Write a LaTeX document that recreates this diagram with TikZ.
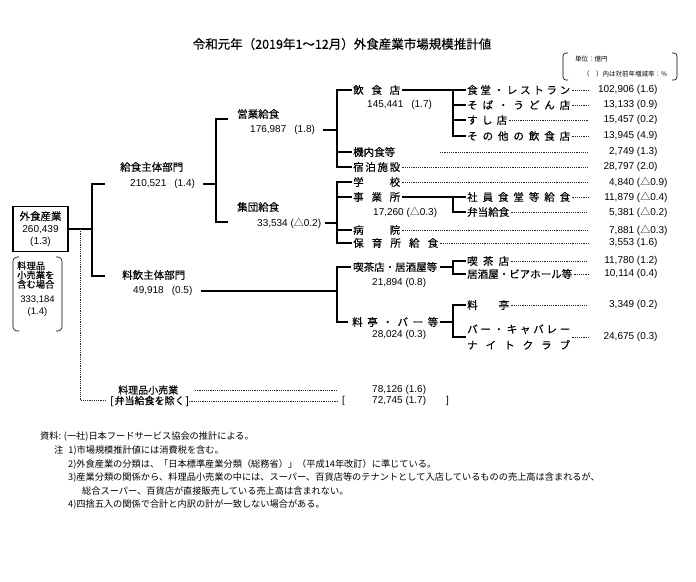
\documentclass[tikz,border=0pt]{standalone}
\usepackage{fontspec}
\setmainfont{Noto Sans CJK JP}[FakeBold=0.3]
\newfontfamily\numfont{Liberation Sans}
\newfontfamily\cjkf{Noto Sans CJK JP}
\usetikzlibrary{calc}
\makeatletter
\def\sprtxt#1{\spr@a#1\spr@end}
\def\spr@end{\spr@end}
\def\spr@a#1{#1\spr@b}
\def\spr@b#1{\ifx#1\spr@end\else\hfil#1\expandafter\spr@b\fi}
\makeatother
\newcommand{\spr}[2]{\makebox[#1][s]{\sprtxt{#2}}}
\newcommand{\tri}{{\cjkf △}}
\tikzset{
 lb/.style={font=\fontsize{10.5}{12}\selectfont, inner sep=0pt, anchor=west},
 nm/.style={font=\numfont\fontsize{10}{12}\selectfont, inner sep=0pt, anchor=west},
 val/.style={nm},
 note/.style={font=\cjkf\fontsize{9.2}{11}\selectfont, inner sep=0pt, anchor=west},
 unit/.style={font=\cjkf\fontsize{6.5}{8}\selectfont, inner sep=0pt, anchor=west},
 ln/.style={line width=1.1pt},
 ld/.style={line width=0.55pt, dash pattern=on 1.1pt off 1.1pt, black!85},
 brk/.style={line width=0.6pt, rounded corners=3pt},
}
\begin{document}
\begin{tikzpicture}[x=1pt,y=-1pt]
\fill[white] (0,0) rectangle (696,581);
\useasboundingbox (0,0) rectangle (696,581);

% title and unit
\node[font=\fontsize{12.5}{14}\selectfont, inner sep=0pt] (title) at (342,44) {令和元年（2019年1～12月）外食産業市場規模推計値};
\node[unit] (u1) at (575,59) {単位：億円};
\node[unit] (u2) at (583,74) {（　）内は対前年増減率：\%};
\draw[brk] (568,53) -- (563,53) -- (563,80) -- (568,80);
\draw[brk] (672,53) -- (677,53) -- (677,80) -- (672,80);

% root box
\node[draw, line width=1.3pt, minimum width=55pt, minimum height=45pt, inner sep=0pt, align=center, font=\fontsize{10}{12.3}\selectfont] (gai) at (40.5,229)
 {{\fontsize{10.5}{12.3}\selectfont 外食産業}\\{\numfont 260,439}\\{\numfont (1.3)}};
\draw[brk, rounded corners=4pt] (19,257) -- (13,257) -- (13,331) -- (19,331);
\draw[brk, rounded corners=4pt] (56,257) -- (62,257) -- (62,331) -- (56,331);
\node[font=\fontsize{9.3}{9.3}\selectfont, inner sep=0pt, align=left, anchor=west] (kouriT) at (17,275) {料理品\\小売業を\\含む場合};
\node[font=\numfont\fontsize{9.5}{12}\selectfont, inner sep=0pt, align=center] (kouriN) at (37.5,306) {333,184\\(1.4)};

% level 1
\node[lb] (kyu) at (120,167) {給食主体部門};
\node[nm] (kyuN) at (130,184) {210,521\hspace{8pt}(1.4)};
\node[lb] (ryo) at (122,275) {料飲主体部門};
\node[nm] (ryoN) at (133,291) {49,918\hspace{8pt}(0.5)};

% level 2
\node[lb] (eig) at (237,114) {営業給食};
\node[nm] (eigN) at (250,130) {176,987\hspace{8pt}(1.8)};
\node[lb] (shu) at (237,207) {集団給食};
\node[nm] (shuN) at (257,223) {33,534 (\tri0.2)};

% level 3
\node[lb] (ins) at (353,90) {\spr{47pt}{飲食店}};
\node[nm] (insN) at (367,105) {145,441\hspace{8pt}(1.7)};
\node[lb] (kin) at (353,152) {機内食等};
\node[lb] (shk) at (353,167) {\spr{47pt}{宿泊施設}};
\node[lb] (gak) at (353,182) {\spr{47pt}{学校}};
\node[lb] (jig) at (353,197) {\spr{47pt}{事業所}};
\node[nm] (jigN) at (373,212) {17,260 (\tri0.3)};
\node[lb] (byo) at (353,230) {\spr{47pt}{病院}};
\node[lb] (hoi) at (353,243) {\spr{85pt}{保育所給食}};
\node[lb] (kis) at (353,267) {喫茶店・居酒屋等};
\node[nm] (kisN) at (372,283) {21,894 (0.8)};
\node[lb] (ryt) at (352,322) {\spr{86pt}{料亭・バー等}};
\node[nm] (rytN) at (372,335) {28,024 (0.3)};

% level 4
\node[lb] (r1) at (467,90) {\spr{103pt}{食堂・レストラン}};
\node[lb] (r2) at (467,105) {\spr{103pt}{そば・うどん店}};
\node[lb] (r3) at (467,120) {\spr{40pt}{すし店}};
\node[lb] (r4) at (467,136) {\spr{103pt}{その他の飲食店}};
\node[lb] (r5) at (467,197) {\spr{103pt}{社員食堂等給食}};
\node[lb] (r6) at (467,212) {弁当給食};
\node[lb] (r7) at (467,261) {\spr{42pt}{喫茶店}};
\node[lb] (r8) at (467,274) {居酒屋・ビアホール等};
\node[lb] (r9) at (467,305) {\spr{42pt}{料亭}};
\node[lb, align=left, font=\fontsize{10.5}{16}\selectfont] (r10) at (467,337) {\spr{103pt}{バー・キャバレー}\\\spr{103pt}{ナイトクラブ}};

% values
\node[val] (v1) at (634,90) {\llap{102,906} (1.6)};
\node[val] (v2) at (634,105) {\llap{13,133} (0.9)};
\node[val] (v3) at (634,120) {\llap{15,457} (0.2)};
\node[val] (v4) at (634,136) {\llap{13,945} (4.9)};
\node[val] (v5) at (634,152) {\llap{2,749} (1.3)};
\node[val] (v6) at (634,167) {\llap{28,797} (2.0)};
\node[val] (v7) at (634,182) {\llap{4,840} (\tri0.9)};
\node[val] (v8) at (634,197) {\llap{11,879} (\tri0.4)};
\node[val] (v9) at (634,212) {\llap{5,381} (\tri0.2)};
\node[val] (v10) at (634,230) {\llap{7,881} (\tri0.3)};
\node[val] (v11) at (634,243) {\llap{3,553} (1.6)};
\node[val] (v12) at (634,261) {\llap{11,780} (1.2)};
\node[val] (v13) at (634,274) {\llap{10,114} (0.4)};
\node[val] (v14) at (634,305) {\llap{3,349} (0.2)};
\node[val] (v15) at (634,337) {\llap{24,675} (0.3)};

% retail
\node[lb, font=\fontsize{10}{12}\selectfont] (rk) at (118,390) {料理品小売業};
\node[lb, font=\fontsize{10}{12}\selectfont] (bk) at (110,401) {[\kern1pt 弁当給食を除く\kern1pt ]};
\node[nm] (rkV) at (372,390) {78,126 (1.6)};
\node[nm] (bkV) at (372,401) {72,745 (1.7)};
\node[nm] (bkL) at (342,401) {[};
\node[nm] (bkR) at (446,401) {]};

% coordinates
\coordinate (j0) at (92,0);
\coordinate (j1) at (216,0);
\coordinate (j2) at (337,0);
\coordinate (j4) at (453,0);
\coordinate (lx) at (588,0);
\coordinate (ls) at (440,0);
\coordinate (dj) at (80,0);
\coordinate (la) at (195,0);
\coordinate (lb2) at (187,0);
\coordinate (lz) at (337,0);
\coordinate (b1) at (105,184);
\coordinate (b2) at (105,276);
\coordinate (c1) at (228,119);
\coordinate (c2) at (228,222);
\coordinate (d1) at (351,267);
\coordinate (d2) at (348,322);
\coordinate (dend) at (105,400);

% connectors
\draw[ln] (gai.east) -- (gai.east -| j0);
\draw[ln] (b1) -- (b1 -| j0) -- (b2 -| j0) -- (b2);
\draw[ld] (gai.east -| dj) -- (dend -| dj) -- (dend);

\draw[ln] ([xshift=8pt]kyuN.east) -- (kyuN.east -| j1);
\draw[ln] (c1) -- (c1 -| j1) -- (c2 -| j1) -- (c2);
\draw[ln] ([xshift=8pt]ryoN.east) -- (ryoN.east -| j2);
\draw[ln] (d1) -- (d1 -| j2) -- (d2 -| j2) -- (d2);

\draw[ln] ([xshift=8pt]eigN.east) -- (eigN.east -| j2);
\draw[ln] ([xshift=-1pt]ins.west) -- (ins.west -| j2) -- (shk.west -| j2) -- ([xshift=-1pt]shk.west);
\draw[ln] (kin.west -| j2) -- ([xshift=-1pt]kin.west);

\draw[ln] ([xshift=4pt]shuN.east) -- (shuN.east -| j2);
\draw[ln] ([xshift=-1pt]gak.west) -- (gak.west -| j2) -- (hoi.west -| j2) -- ([xshift=-1pt]hoi.west);
\draw[ln] (jig.west -| j2) -- ([xshift=-1pt]jig.west);
\draw[ln] (byo.west -| j2) -- ([xshift=-1pt]byo.west);

\draw[ln] ([xshift=2pt]ins.east) -- (ins.east -| j4);
\draw[ln] ([xshift=-1pt]r1.west) -- (r1.west -| j4) -- (r4.west -| j4) -- ([xshift=-1pt]r4.west);
\draw[ln] (r2.west -| j4) -- ([xshift=-1pt]r2.west);
\draw[ln] (r3.west -| j4) -- ([xshift=-1pt]r3.west);

\draw[ln] ([xshift=2pt]jig.east) -- (jig.east -| j4);
\draw[ln] ([xshift=-1pt]r5.west) -- (r5.west -| j4) -- (r6.west -| j4) -- ([xshift=-1pt]r6.west);

\draw[ln] ([xshift=3pt]kis.east) -- (kis.east -| j4);
\draw[ln] ([xshift=-1pt]r7.west) -- (r7.west -| j4) -- (r8.west -| j4) -- ([xshift=-1pt]r8.west);

\draw[ln] ([xshift=2pt]ryt.east) -- (ryt.east -| j4);
\draw[ln] ([xshift=-1pt]r9.west) -- (r9.west -| j4) -- (r10.west -| j4) -- ([xshift=-1pt]r10.west);

% leaders
\foreach \n in {r1,r2,r3,r4,shk,gak,r5,r6,byo,hoi,r7,r8,r9,r10}
  \draw[ld] ([xshift=2pt]\n.east) -- (\n.east -| lx);
\draw[ld] (kin.east -| ls) -- (kin.east -| lx);
\draw[ld] (rk.east -| la) -- (rk.east -| lz);
\draw[ld] (bk.east -| lb2) -- (bk.east -| lz);

% notes
\node[note] (n0) at (40,437) {資料: (一社)日本フードサービス協会の推計による。};
\node[note] (n1) at (54,451) {注\hspace{5pt}1)市場規模推計値には消費税を含む。};
\node[note] (n2) at (68,464) {2)外食産業の分類は、「日本標準産業分類（総務省）」（平成14年改訂）に準じている。};
\node[note] (n3) at (68,478) {3)産業分類の関係から、料理品小売業の中には、スーパー、百貨店等のテナントとして入店しているものの売上高は含まれるが、};
\node[note] (n4) at (82,491) {総合スーパー、百貨店が直接販売している売上高は含まれない。};
\node[note] (n5) at (68,505) {4)四捨五入の関係で合計と内訳の計が一致しない場合がある。};
\end{tikzpicture}
\end{document}
